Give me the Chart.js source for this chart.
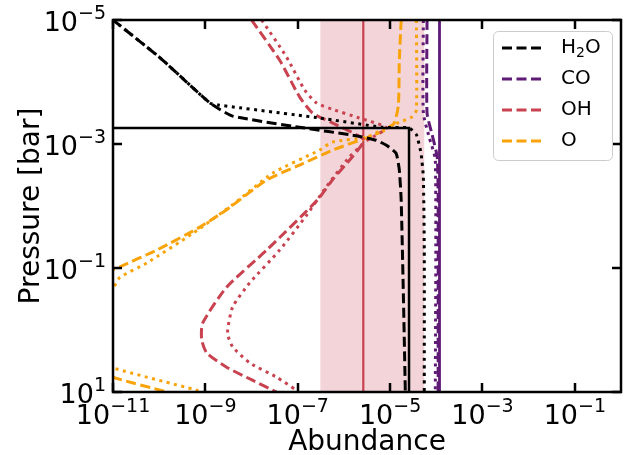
<!DOCTYPE html>
<html lang="en">
<head>
  <meta charset="UTF-8">
  <title>Abundance profiles</title>
  <script src="https://cdn.jsdelivr.net/npm/chart.js"></script>
  <style>
    body { margin: 0; background: #fff; }
    canvas { display: block; }
  </style>
</head>
<body>
  <canvas id="chart" width="624" height="455"></canvas>

  <script>
    // every value below is log10 (abundance, or pressure in bar)
    const xTicks = [-11, -9, -7, -5, -3, -1];
    const yTicks = [-5, -3, -1, 1];

    const h2oDashX = [-11, -9.98, -8.9, -8.41, -6.96, -5.71, -5.30, -5.08, -4.87, -4.80, -4.76, -4.71, -4.67];
    const h2oDashP = [-5, -4.39, -3.66, -3.45, -3.27, -3.13, -3.06, -2.98, -2.85, -2.58, -2.10, -0.48, 1.0];
    const h2oDotX = [-11, -9.98, -8.9, -8.73, -6.53, -5.17, -4.59, -4.43, -4.33, -4.28, -4.26, -4.26];
    const h2oDotP = [-5, -4.39, -3.66, -3.63, -3.42, -3.27, -3.26, -3.15, -2.85, -2.47, -1.29, 1.0];
    const h2oStepX = [-11.5, -4.59, -4.59];
    const h2oStepP = [-3.26, -3.26, 1.0];

    const coDashX = [-4.20, -4.20, -4.09, -3.98, -3.96, -3.96];
    const coDashP = [-5, -3.5, -3.15, -2.79, -2.1, 1.0];
    const coDotX = [-4.28, -4.28, -4.15, -4.02, -4.02];
    const coDotP = [-5, -3.5, -3.1, -2.74, 1.0];
    const coSolid = -3.93;

    const ohDashX = [-8.0, -7.39, -6.96, -6.68, -6.25, -5.73, -5.56, -5.82, -6.25, -6.57, -7.67, -8.54, -9.06, -9.08, -8.97, -8.54, -7.98, -7.46];
    const ohDashP = [-5, -4.35, -3.76, -3.5, -3.34, -3.15, -3.06, -2.79, -2.42, -2.10, -1.29, -0.69, -0.11, 0.16, 0.37, 0.60, 0.81, 1.0];
    const ohDotX = [-7.78, -7.24, -6.85, -6.59, -6.21, -5.67, -5.08, -5.51, -5.88, -6.38, -6.81, -7.39, -8.04, -8.41, -8.52, -8.41, -8.04, -7.46, -7.03];
    const ohDotP = [-5, -4.40, -3.87, -3.66, -3.55, -3.42, -3.26, -3.05, -2.79, -2.31, -1.85, -1.29, -0.76, -0.37, 0.05, 0.27, 0.53, 0.76, 0.97];
    const ohSolid = -5.58;
    const bandLo = -6.51, bandHi = -4.26;

    const oDashX = [-4.76, -4.80, -4.82, -4.91, -5.08, -5.51, -6.25, -6.96, -7.67, -8.54, -9.12, -10.05, -10.85, -11.0, -12.5, -12.5, -11.0, -9.83, -9.6];
    const oDashP = [-5, -4.35, -3.63, -3.34, -3.23, -3.10, -2.90, -2.66, -2.42, -1.94, -1.66, -1.29, -1.02, -0.97, -0.5, 0.3, 0.76, 1.0, 1.05];
    const oDotX = [-4.43, -4.43, -4.52, -4.80, -5.17, -5.51, -6.25, -6.53, -7.54, -8.41, -9.27, -10.27, -10.85, -11.0, -12.5, -12.5, -11.0, -9.19, -9.0];
    const oDotP = [-5, -3.55, -3.44, -3.35, -3.23, -3.11, -3.03, -2.90, -2.53, -2.02, -1.56, -1.08, -0.85, -0.69, -0.3, 0.2, 0.61, 0.97, 1.02];

    const names = ['H2O', 'CO', 'OH', 'O'];
    const colors = ['#000000', '#5e1a74', '#c84250', '#f9a30a'];

    const DASH = [10, 4.5];
    const DOT = [3, 4.5];

    const pts = (xs, ps) => xs.map((x, i) => ({ x: Math.pow(10, x), y: Math.pow(10, ps[i]) }));

    function line(xs, ps, color, dash, width, order, tension) {
      return {
        data: pts(xs, ps),
        showLine: true,
        borderColor: color,
        borderWidth: width,
        borderDash: dash,
        pointRadius: 0,
        tension: tension,
        fill: false,
        order: order
      };
    }

    const datasets = [
      {
        data: pts([bandLo, bandLo, bandHi, bandHi], [-5, 1, 1, -5]),
        showLine: true,
        borderWidth: 0,
        pointRadius: 0,
        backgroundColor: 'rgba(200, 66, 80, 0.22)',
        fill: 'shape',
        order: 20
      },
      line([ohSolid, ohSolid], [-5, 1], colors[2], [], 2.2, 15, 0),
      line(oDotX, oDotP, colors[3], DOT, 3, 12, 0.2),
      line(oDashX, oDashP, colors[3], DASH, 3, 11, 0.2),
      line(ohDotX, ohDotP, colors[2], DOT, 3, 10, 0.2),
      line(ohDashX, ohDashP, colors[2], DASH, 3, 9, 0.2),
      line(coDotX, coDotP, colors[1], DOT, 3, 8, 0.2),
      line(coDashX, coDashP, colors[1], DASH, 3, 7, 0.2),
      line(h2oDotX, h2oDotP, colors[0], DOT, 3, 6, 0.15),
      line(h2oDashX, h2oDashP, colors[0], DASH, 3, 5, 0.15),
      line([coSolid, coSolid], [-5, 1], colors[1], [], 2.8, 1, 0),
      line(h2oStepX, h2oStepP, colors[0], [], 2.5, 0, 0)
    ];

    const FONT = '"DejaVu Sans", sans-serif';

    function sciLabel(ctx, exp, x, y, mode) {
      const base = '10';
      const sup = exp < 0 ? '\u2212' + (-exp) : String(exp);
      ctx.font = '27px ' + FONT;
      const wb = ctx.measureText(base).width;
      ctx.font = '19px ' + FONT;
      const ws = ctx.measureText(sup).width;
      let left, baseline;
      if (mode === 'x') {
        left = x - (wb + ws) / 2;
        baseline = y;
      } else {
        left = x - wb - ws;
        baseline = y + 11;
      }
      ctx.textAlign = 'left';
      ctx.textBaseline = 'alphabetic';
      ctx.font = '27px ' + FONT;
      ctx.fillText(base, left, baseline);
      ctx.font = '19px ' + FONT;
      ctx.fillText(sup, left + wb, baseline - 12);
    }

    const decorations = {
      id: 'decorations',
      afterDraw(chart) {
        const ctx = chart.ctx;
        const a = chart.chartArea;
        const xs = chart.scales.x, ys = chart.scales.y;
        ctx.save();
        ctx.strokeStyle = '#000';
        ctx.fillStyle = '#000';

        // frame
        ctx.lineWidth = 2.5;
        ctx.strokeRect(a.left, a.top, a.right - a.left, a.bottom - a.top);

        // inward ticks on all four sides
        const TL = 9;
        ctx.lineWidth = 2.5;
        ctx.beginPath();
        xTicks.forEach(t => {
          const px = Math.round(xs.getPixelForValue(Math.pow(10, t)));
          ctx.moveTo(px, a.bottom); ctx.lineTo(px, a.bottom - TL);
          ctx.moveTo(px, a.top); ctx.lineTo(px, a.top + TL);
        });
        yTicks.forEach(t => {
          const py = Math.round(ys.getPixelForValue(Math.pow(10, t)));
          ctx.moveTo(a.left, py); ctx.lineTo(a.left + TL, py);
          ctx.moveTo(a.right, py); ctx.lineTo(a.right - TL, py);
        });
        ctx.stroke();

        // tick labels
        xTicks.forEach(t => sciLabel(ctx, t, xs.getPixelForValue(Math.pow(10, t)), a.bottom + 32, 'x'));
        yTicks.forEach(t => sciLabel(ctx, t, a.left - 7, ys.getPixelForValue(Math.pow(10, t)), 'y'));

        // axis titles
        ctx.font = '28px ' + FONT;
        ctx.textAlign = 'center';
        ctx.textBaseline = 'alphabetic';
        ctx.fillText('Abundance', (a.left + a.right) / 2, 450);
        ctx.save();
        ctx.translate(39, (a.top + a.bottom) / 2);
        ctx.rotate(-Math.PI / 2);
        ctx.fillText('Pressure [bar]', 0, 0);
        ctx.restore();

        // legend
        const lx = 493.5, ly = 31.5, lw = 119, lh = 129, r = 5;
        ctx.beginPath();
        ctx.moveTo(lx + r, ly);
        ctx.arcTo(lx + lw, ly, lx + lw, ly + lh, r);
        ctx.arcTo(lx + lw, ly + lh, lx, ly + lh, r);
        ctx.arcTo(lx, ly + lh, lx, ly, r);
        ctx.arcTo(lx, ly, lx + lw, ly, r);
        ctx.closePath();
        ctx.fillStyle = 'rgba(255,255,255,0.8)';
        ctx.fill();
        ctx.strokeStyle = '#cccccc';
        ctx.lineWidth = 1;
        ctx.stroke();

        const rows = [48, 79, 110, 141];
        names.forEach((n, i) => {
          const y = rows[i];
          ctx.strokeStyle = colors[i];
          ctx.lineWidth = 3;
          ctx.setLineDash(DASH);
          ctx.beginPath();
          ctx.moveTo(502, y);
          ctx.lineTo(542, y);
          ctx.stroke();
          ctx.setLineDash([]);
          ctx.fillStyle = '#000';
          ctx.textAlign = 'left';
          ctx.textBaseline = 'middle';
          ctx.font = '20px ' + FONT;
          if (n === 'H2O') {
            const wH = ctx.measureText('H').width;
            ctx.fillText('H', 561, y);
            ctx.font = '14px ' + FONT;
            const w2 = ctx.measureText('2').width;
            ctx.fillText('2', 561 + wH, y + 5);
            ctx.font = '20px ' + FONT;
            ctx.fillText('O', 561 + wH + w2, y);
          } else {
            ctx.fillText(n, 561, y);
          }
        });
        ctx.restore();
      }
    };

    new Chart(document.getElementById('chart').getContext('2d'), {
      type: 'scatter',
      data: { datasets: datasets },
      options: {
        responsive: false,
        animation: false,
        layout: { padding: { left: 113, top: 20, right: 3, bottom: 63 } },
        elements: { line: { capBezierPoints: false } },
        plugins: {
          legend: { display: false },
          tooltip: { enabled: false }
        },
        scales: {
          x: { type: 'logarithmic', display: false, min: 1e-11, max: 1 },
          y: { type: 'logarithmic', display: false, min: 1e-5, max: 10, reverse: true }
        }
      },
      plugins: [decorations]
    });
  </script>
</body>
</html>
